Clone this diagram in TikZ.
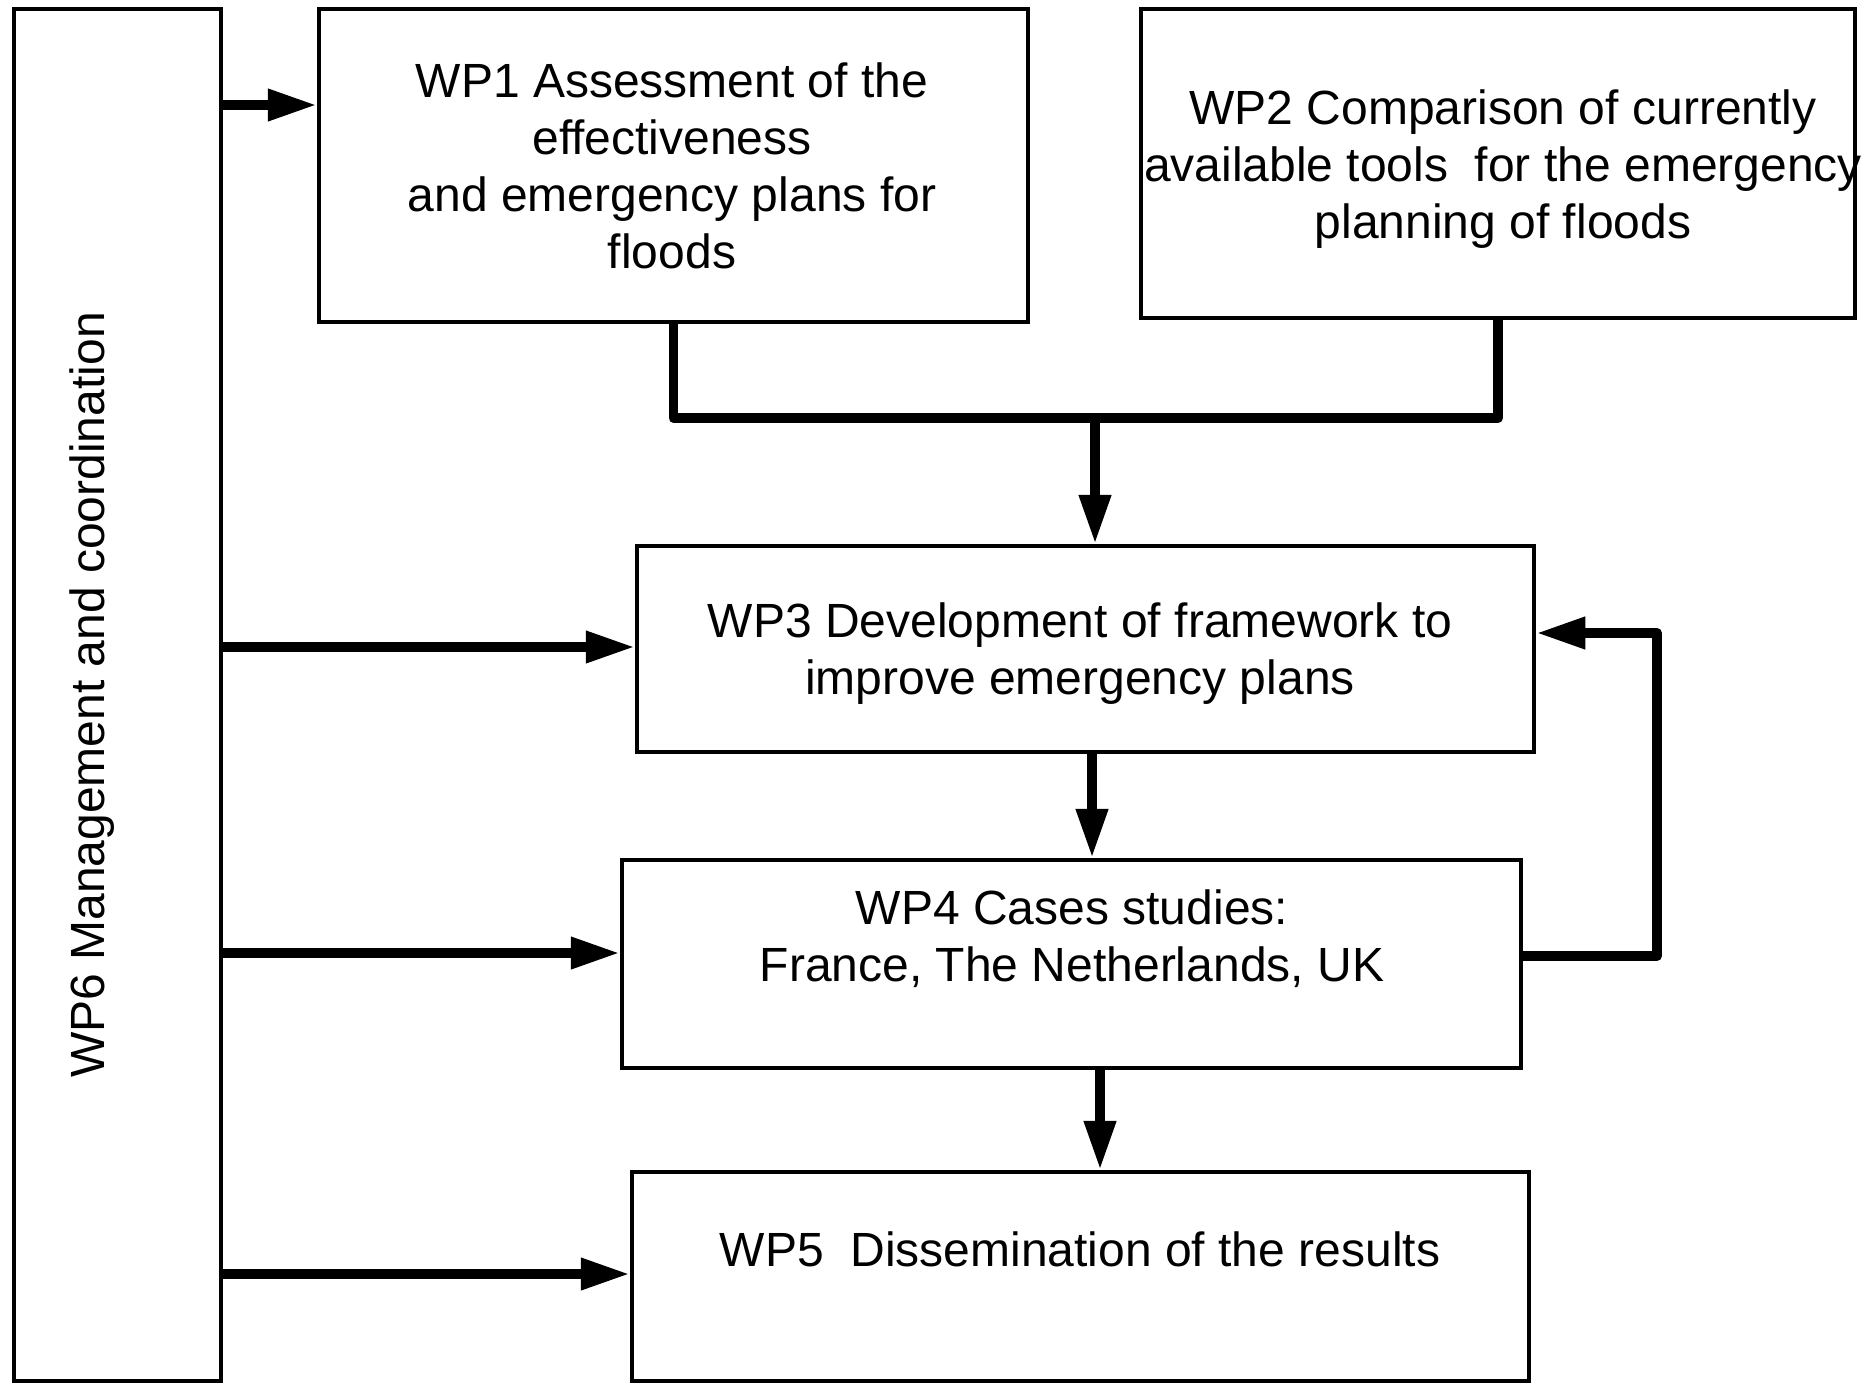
\documentclass[tikz,border=0pt]{standalone}
\usepackage{fontspec}
\setmainfont{Liberation Sans}
\usetikzlibrary{arrows.meta}

\tikzset{
  wpbox/.style={draw=black, line width=1.1pt, fill=white, inner sep=0pt},
  wptext/.style={align=center, inner sep=0pt, font=\fontsize{13.65}{16.2}\selectfont},
  link/.style={line width=2.8pt, line join=round},
  flow/.style={link, -{Triangle[length=4.9mm,width=3mm]}},
}

\begin{document}
\begin{tikzpicture}[x=0.01cm, y=-0.01cm]
\useasboundingbox (0,0) rectangle (1874,1382);

% work package boxes
\node[wpbox, minimum width=2.07cm, minimum height=13.72cm] (wp6) at (117.5,695) {};
\node[wpbox, minimum width=7.09cm, minimum height=3.13cm] (wp1) at (673.5,165.5) {};
\node[wpbox, minimum width=7.14cm, minimum height=3.09cm] (wp2) at (1498,163.5) {};
\node[wpbox, minimum width=8.97cm, minimum height=2.06cm] (wp3) at (1085.5,649) {};
\node[wpbox, minimum width=8.99cm, minimum height=2.08cm] (wp4) at (1071.5,964) {};
\node[wpbox, minimum width=8.97cm, minimum height=2.09cm] (wp5) at (1080.5,1276.5) {};

% texts
\node[wptext, rotate=90] (wp6txt) at (92,695) {WP6 Management and coordination};
\node[wptext] (wp1txt) at (672,166) {WP1 Assessment of the\\effectiveness\\and emergency plans for\\floods};
\node[wptext] (wp2txt) at (1503,169) {WP2 Comparison of currently\\available tools~ for the emergency\\planning of floods};
\node[wptext] (wp3txt) at (1080,654) {WP3 Development of framework to\\improve emergency plans};
\node[wptext] (wp4txt) at (1072,939) {WP4 Cases studies:\\France, The Netherlands, UK};
\node[wptext] (wp5txt) at (1080,1249) {WP5~ Dissemination of the results};

% WP1 and WP2 feed WP3
\coordinate (join) at (1095,418);
\draw[link] (wp1.south) |- (join) -| (wp2.south);
\draw[flow] (join) -- (join |- wp3.north);

% chain down
\draw[flow] (wp3.south -| 1092,0) -- (wp4.north -| 1092,0);
\draw[flow] (wp4.south -| 1100,0) -- (wp5.north -| 1100,0);

% feedback WP4 -> WP3
\draw[flow] (wp4.east |- 0,956) -| (1657,633) -- (wp3.east |- 0,633);

% coordination arrows
\draw[flow] (wp6.east |- 0,105) -- (wp1.west |- 0,105);
\draw[flow] (wp6.east |- 0,647) -- (wp3.west |- 0,647);
\draw[flow] (wp6.east |- 0,953) -- (wp4.west |- 0,953);
\draw[flow] (wp6.east |- 0,1274) -- (wp5.west |- 0,1274);
\end{tikzpicture}
\end{document}
